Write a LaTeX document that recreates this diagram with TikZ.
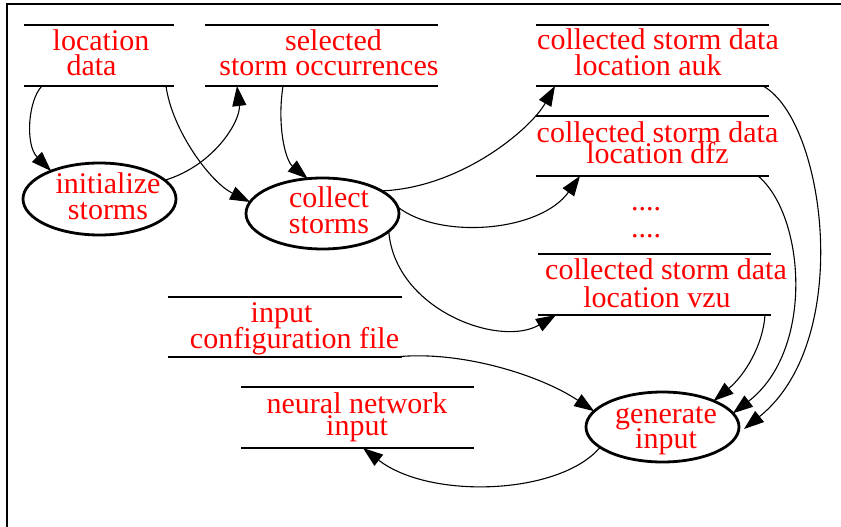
\documentclass[tikz,border=0pt]{standalone}
\usepackage{fontspec}
\setmainfont{Liberation Serif}
\usetikzlibrary{arrows.meta,shapes.geometric}
\tikzset{
  store/.style={inner sep=0pt, outer sep=0pt, minimum height=61pt},
  storeline/.style={line width=2.8pt},
  proc/.style={ellipse, draw, line width=2.8pt, inner sep=0pt, outer sep=0pt},
  lbl/.style={text=red, align=center, anchor=north, inner sep=0pt, outer sep=0pt,
    font={\fontsize{30}{#1}\selectfont\lineskiplimit=-40pt\relax}},
  flow/.style={line width=1.1pt, -{Triangle[length=20pt,width=14pt]}},
}
\begin{document}
\begin{tikzpicture}[x=1pt,y=-1pt]
\useasboundingbox (0,0) rectangle (841,527);
% frame
\draw[line width=1.2pt] (7,527) -- (7,4) -- (841,4);

% data stores
\node[store, minimum width=150pt] (ld)  at (99,55.5) {};
\node[store, minimum width=233pt] (so)  at (321.5,55.5) {};
\node[store, minimum width=233pt] (auk) at (652.5,55.5) {};
\node[store, minimum width=233pt, minimum height=60pt] (dfz) at (652.5,146) {};
\node[store, minimum width=233pt] (vzu) at (654.5,284.5) {};
\node[store, minimum width=234pt, minimum height=60pt] (cfg) at (285,327) {};
\node[store, minimum width=233pt] (nn)  at (357.5,417.5) {};
\foreach \s in {ld,so,auk,dfz,vzu,cfg,nn}{
  \draw[storeline] (\s.north west) -- (\s.north east) (\s.south west) -- (\s.south east);
}

% processes
\node[proc, minimum width=153pt, minimum height=72pt] (init)    at (99.5,199) {};
\node[proc, minimum width=153pt, minimum height=71pt] (collect) at (322.5,213.5) {};
\node[proc, minimum width=153pt, minimum height=70pt] (gen)     at (662.5,427) {};

% labels
\node[lbl=25] (ldT)  at (101,29)    {\rule{0pt}{22pt}location\\data\hspace*{19pt}};
\node[lbl=25] (soT)  at (329,29)    {\rule{0pt}{22pt}\hspace*{9pt}selected\\storm occurrences};
\node[lbl=26] (aukT) at (658,28)    {\rule{0pt}{22pt}collected storm data\\location auk\hspace*{20pt}};
\node[lbl=21] (dfzT) at (657.5,120) {\rule{0pt}{22pt}collected storm data\\location dfz};
\node[lbl=27] (dots) at (646,188)   {\rule{0pt}{22pt}....\\....};
\node[lbl=28] (vzuT) at (666,257)   {\rule{0pt}{22pt}collected storm data\\location vzu\hspace*{18pt}};
\node[lbl=26] (cfgT) at (294.5,300) {\rule{0pt}{22pt}input\hspace*{26pt}\\configuration file};
\node[lbl=22] (nnT)  at (357,391)   {\rule{0pt}{22pt}neural network\\input};
\node[lbl=26] (initT) at (108,171)  {\rule{0pt}{22pt}initialize\\storms};
\node[lbl=26] (collT) at (329,185)  {\rule{0pt}{22pt}collect\\storms};
\node[lbl=25] (genT)  at (666,401)  {\rule{0pt}{22pt}generate\\input};

% flows
\draw[flow] ([xshift=18pt]ld.south west) .. controls (28,100) and (25,145) .. (init.150);
\draw[flow] (init.16) .. controls (215,165) and (241,120) .. ([xshift=32pt]so.south west);
\draw[flow] ([xshift=-8pt]ld.south east) .. controls (172,130) and (210,182) .. (collect.171);
\draw[flow] ([xshift=78pt]so.south west) .. controls (277,125) and (285,160) .. (collect.113);
\draw[flow] (collect.21) .. controls (460,188) and (530,130) .. ([xshift=19pt]auk.south west);
\draw[flow] (collect.5) .. controls (440,240) and (540,232) .. ([xshift=44pt]dfz.south west);
\draw[flow] (collect.-15) .. controls (395,310) and (500,348) .. ([xshift=18pt]vzu.south west);
\draw[flow] ([xshift=-7pt]cfg.south east) .. controls (460,350) and (540,375) .. (gen.167);
\draw[flow] (gen.198) .. controls (560,495) and (430,500) .. ([xshift=122pt]nn.south west);
\draw[flow] ([xshift=-6pt]vzu.south east) .. controls (763,345) and (745,375) .. (gen.27);
\draw[flow] ([xshift=-11pt]dfz.south east) .. controls (805,215) and (815,350) .. (gen.11);
\draw[flow] ([xshift=-6pt]auk.south east) .. controls (825,120) and (855,340) .. ([shift={(5,2)}]gen.east);
\end{tikzpicture}
\end{document}
